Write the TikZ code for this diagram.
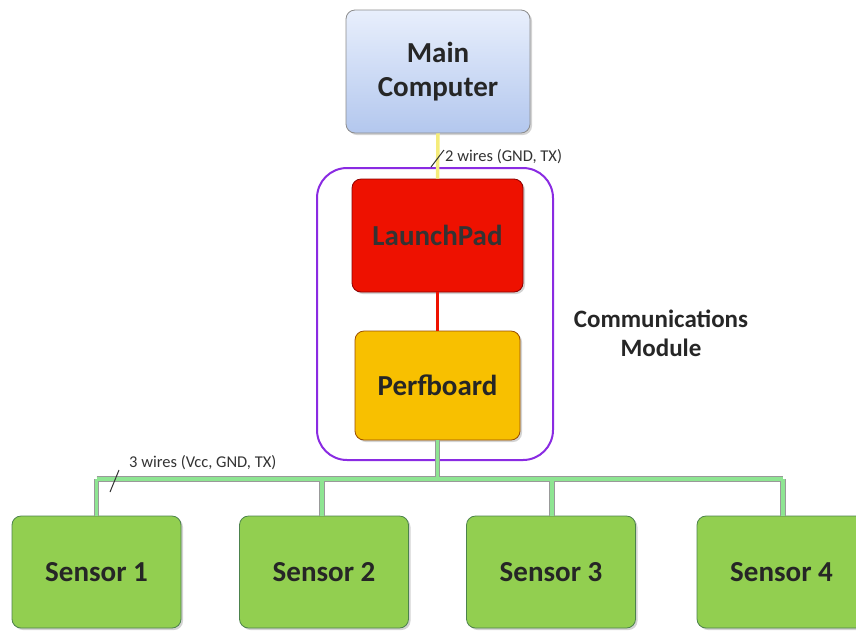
\documentclass[tikz,border=0pt]{standalone}
\usepackage{fontspec}
\setmainfont{Carlito}
\usetikzlibrary{shadows,calc}
\definecolor{mcTop}{HTML}{E8EFFC}
\definecolor{mcBot}{HTML}{B3C7EE}
\definecolor{lpRed}{HTML}{EE1100}
\definecolor{pbYel}{HTML}{F8C000}
\definecolor{snGrn}{HTML}{92CF50}
\definecolor{busGrn}{HTML}{8EE592}
\definecolor{modPur}{HTML}{8A2BE2}
\definecolor{wireYel}{HTML}{F5EC7A}
\tikzset{
  box/.style={draw=#1, line width=0.8pt, rounded corners=9pt, anchor=center,
    drop shadow={shadow xshift=2pt, shadow yshift=-2pt, opacity=0.35},
    font=\bfseries, text=black!85, align=center, inner sep=0pt},
  bigfont/.style={font=\bfseries\fontsize{29}{34}\selectfont},
  bus/.style={draw=black!40, line width=0.8pt, double=busGrn, double distance=3.6pt},
  busin/.style={busGrn, line width=3.6pt},
  lbl/.style={font=\fontsize{16.5}{19}\selectfont, text=black!80, inner sep=0pt},
  slash/.style={black!80, line width=1pt}
}
\begin{document}
\begin{tikzpicture}[x=1pt,y=-1pt]
\useasboundingbox (0,0) rectangle (856,630);
% module boundary
\node[draw=modPur, line width=2pt, rounded corners=30pt, minimum width=236pt, minimum height=292pt, inner sep=0pt] (mod) at (435,314) {};
% boxes
\node[box=black!45, top color=mcTop, bottom color=mcBot, minimum width=184pt, minimum height=123pt, bigfont] (mc) at (438,71.5) {Main\\Computer};
\node[box=red!55!black, fill=lpRed, minimum width=171pt, minimum height=113pt, bigfont, text=black!80] (lp) at (437.5,235.5) {LaunchPad};
\node[box=orange!60!black, fill=pbYel, minimum width=165pt, minimum height=109pt, bigfont] (pb) at (437.5,385.5) {Perfboard};
\foreach \i/\x in {1/96.5,2/324,3/551,4/781.5}{
  \node[box=green!30!black!70, fill=snGrn, minimum width=169pt, minimum height=112pt, bigfont] (s\i) at (\x,572) {Sensor \i};
}
% connectors
\draw[wireYel, line width=3.5pt] (mc.south) -- (lp.north);
\draw[lpRed, line width=3.5pt] (lp.south) -- (pb.north);
\coordinate (hub) at (437.5,479);
\coordinate (bl) at (96.5,479);
\coordinate (br) at (783,479);
\draw[bus] (pb.south) -- (hub);
\draw[bus] (bl) -- (br);
\foreach \i/\x in {1/96.5,2/322,3/552,4/783}{
  \draw[bus] (\x,479) -- (s\i.north -| \x,0);
}
\draw[busin] (pb.south) -- (hub);
\draw[busin] (bl) -- (br);
\foreach \i/\x in {1/96.5,2/322,3/552,4/783}{
  \draw[busin] (\x,479) -- (s\i.north -| \x,0);
}
% labels
\node[lbl, anchor=west] (l2) at (445,157) {2 wires (GND, TX)};
\draw[slash] (431,167) -- (444,150);
\node[lbl, anchor=west] (l3) at (129,463) {3 wires (Vcc, GND, TX)};
\draw[slash] (110,492) -- (119,470);
\node[font=\bfseries\fontsize{25}{29}\selectfont, text=black!85, align=center] (cm) at (661,333) {Communications\\Module};
\end{tikzpicture}
\end{document}
